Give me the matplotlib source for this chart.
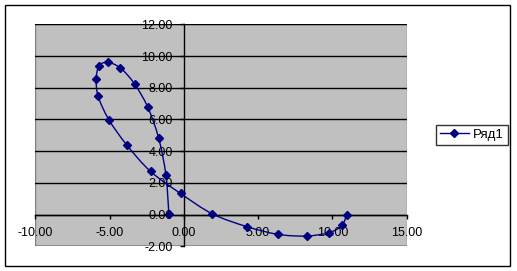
import matplotlib
matplotlib.use("Agg")
import matplotlib.pyplot as plt
from matplotlib.path import Path
from matplotlib.patches import PathPatch, Rectangle
from matplotlib.lines import Line2D
import numpy as np

plt.rcParams['font.family'] = ['Liberation Sans', 'DejaVu Sans']

series_name = "Ряд1"
x_vals = [-1.01, -1.21, -1.70, -2.43, -3.32, -4.28, -5.14, -5.70, -5.90, -5.77,
          -5.05, -3.85, -2.24, -0.22, 1.91, 4.24, 6.36, 8.26, 9.77, 10.64, 10.96]
y_vals = [0.05, 2.51, 4.83, 6.77, 8.24, 9.25, 9.60, 9.38, 8.58, 7.46,
          5.99, 4.40, 2.72, 1.33, 0.05, -0.76, -1.25, -1.35, -1.14, -0.68, 0.0]
x_ticks = [-10, -5, 0, 5, 10, 15]
y_ticks = [-2, 0, 2, 4, 6, 8, 10, 12]

W, H = 517, 271
fig = plt.figure(figsize=(W / 100, H / 100), dpi=100)
fig.patch.set_facecolor('white')

# outer chart border
fig.patches.append(Rectangle((5.3 / W, 1 - 265.7 / H), (510.3 - 5.3) / W, (265.7 - 5) / H,
                             transform=fig.transFigure, fill=False, edgecolor='black',
                             linewidth=1.0))

ax = fig.add_axes([35.3 / W, 1 - 246.3 / H, (406.7 - 35.3) / W, (246.3 - 24.3) / H])
ax.set_facecolor('#C0C0C0')
ax.set_xlim(-10, 15)
ax.set_ylim(-2, 12)

for s in ['top', 'right']:
    ax.spines[s].set_visible(False)
ax.spines['left'].set_position(('data', 0))
ax.spines['bottom'].set_position(('data', 0))
for s in ['left', 'bottom']:
    ax.spines[s].set_color('black')
    ax.spines[s].set_linewidth(1.0)
ax.add_patch(Rectangle((0, 0), 1, 1, transform=ax.transAxes, fill=False,
                       edgecolor='#808080', linewidth=1.0, zorder=0.5))

ax.set_xticks(x_ticks)
ax.set_yticks(y_ticks)
ax.set_xticklabels([f"{v:.2f}" for v in x_ticks])
ax.set_yticklabels([f"{v:.2f}" for v in y_ticks])
ax.tick_params(axis='both', direction='out', length=3, width=1, color='black',
               labelsize=9, labelcolor='black')
ax.tick_params(axis='x', pad=6)
ax.tick_params(axis='y', pad=5)
ax.yaxis.grid(True, color='black', linewidth=1.0)
ax.xaxis.grid(False)
ax.set_axisbelow(True)

# smoothed line (Bezier through data points, Excel-like)
P = np.column_stack([x_vals, y_vals])
n = len(P)
verts = [P[0]]
codes = [Path.MOVETO]
for i in range(n - 1):
    p_prev = P[i - 1] if i > 0 else P[i]
    p_next2 = P[i + 2] if i + 2 < n else P[i + 1]
    c1 = P[i] + (P[i + 1] - p_prev) / 6.0
    c2 = P[i + 1] - (p_next2 - P[i]) / 6.0
    verts += [c1, c2, P[i + 1]]
    codes += [Path.CURVE4] * 3
ax.add_patch(PathPatch(Path(verts, codes), facecolor='none', edgecolor='#000080',
                       linewidth=1.0, zorder=3))
ax.plot(x_vals, y_vals, linestyle='none', marker='D', markersize=4.2,
        color='#000080', zorder=4, clip_on=False)

handle = Line2D([], [], color='#000080', linewidth=1.0, marker='D', markersize=4.2)
leg = fig.legend([handle], [series_name], loc='center',
                 bbox_to_anchor=((437.3 + 506.3) / 2 / W, 1 - (125.3 + 144) / 2 / H),
                 frameon=True, fancybox=False, edgecolor='black', fontsize=9.5,
                 handlelength=2.2, handletextpad=0.3, borderpad=0.3, borderaxespad=0)
leg.get_frame().set_linewidth(1.0)

fig.savefig('out.png', dpi=100)
